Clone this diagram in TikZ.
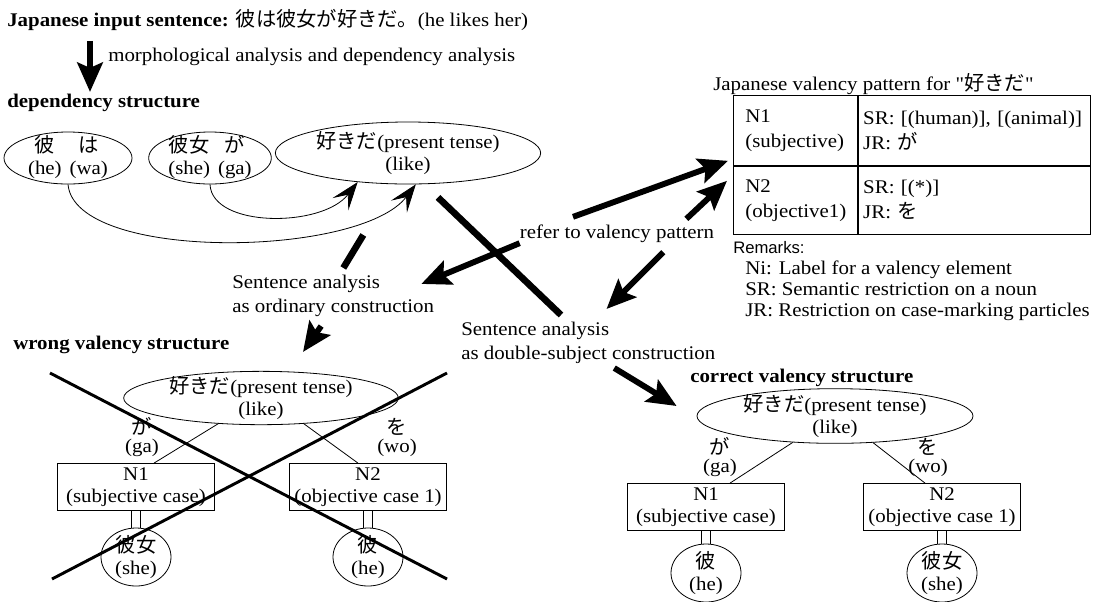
\documentclass[tikz,border=0pt]{standalone}
\usepackage{fontspec}
\setmainfont{Liberation Serif}[FakeStretch=1.08]
\newfontfamily\qfont{Liberation Serif}[FakeStretch=1.08]
\newfontfamily\jpfont{Noto Sans CJK JP}[Scale=1.05]
\newfontfamily\remfont{Liberation Sans}
\usetikzlibrary{shapes.geometric,arrows.meta}

\newcommand{\ja}[1]{{\jpfont #1}}
\newcommand{\dq}{{\qfont"}}

\tikzset{
  every node/.style={font=\fontsize{14.5}{18}\selectfont, inner sep=0pt},
  heading/.style={font=\fontsize{14.5}{18}\selectfont\bfseries, anchor=west},
  plain/.style={anchor=west, align=left},
  word/.style={ellipse, draw, line width=0.6pt, inner xsep=0pt, inner ysep=-4pt,
    align=center, font=\fontsize{14.5}{16.5}\selectfont},
  particle/.style={align=center, font=\fontsize{14.5}{13.5}\selectfont},
  casebox/.style={draw, line width=0.6pt, minimum width=117.75pt,
    minimum height=35.25pt, align=center, font=\fontsize{14.5}{16.5}\selectfont},
  cell/.style={draw, line width=0.6pt, anchor=north west, align=left,
    font=\fontsize{14.5}{18.75}\selectfont},
  fatarrow/.style={line width=4.4pt, -{Stealth[length=22pt,width=19pt,inset=4pt]}},
  fatline/.style={line width=5pt},
  deparrow/.style={line width=0.6pt, -{Stealth[length=21pt,width=15pt,inset=9pt]}},
  crossout/.style={line width=2.2pt},
}

\begin{document}
\begin{tikzpicture}[x=0.75pt, y=-0.75pt]
\fill[white] (0,0) rectangle (1098,601);
\useasboundingbox (0,0) rectangle (1098,601);

% input and dependency structure
\node[plain] (title) at (7,20) {\textbf{Japanese input sentence:} \ja{彼は彼女が好きだ。}(he likes her)};
\node[plain] (morph) at (108,57) {morphological analysis and dependency analysis};
\node[heading] (depst) at (7,103) {dependency structure};
\draw[fatarrow] ([shift={(83,10)}]title.south west) -- ([shift={(83,-2)}]depst.north west);

\node[word, minimum width=96pt, minimum height=39pt] (heWa) at (68,158)
  {\begin{tabular}{@{}c@{\hspace{6pt}}c@{}}\ja{彼}&\ja{は}\\(he)&(wa)\end{tabular}};
\node[word, minimum width=92pt, minimum height=39pt] (sheGa) at (210,158)
  {\begin{tabular}{@{}c@{\hspace{6pt}}c@{}}\ja{彼女}&\ja{が}\\(she)&(ga)\end{tabular}};
\node[word, minimum width=199pt, minimum height=46.5pt] (like) at (408,153)
  {\ja{好きだ}(present tense)\\(like)};

\draw[deparrow] (heWa.south) .. controls (75,262) and (360,258) .. (like.-76);
\draw[deparrow] (sheGa.south) .. controls (212,228) and (322,228) .. (like.-150);

% the two analyses
\node[plain] (ord) at (232,296) {Sentence analysis\\as ordinary construction};
\node (refer) at (617,234) {refer to valency pattern};
\node[plain] (dbl) at (461,343) {Sentence analysis\\as double-subject construction};

% valency pattern table
\node[plain] (pattitle) at (713,84) {Japanese valency pattern for \dq\ja{好きだ}\dq};
\node[cell, inner xsep=9pt, text width=75pt, minimum height=52.5pt] (n1cell) at (733,95) {N1\\(subjective)};
\node[cell, inner xsep=3.75pt, text width=166.5pt, minimum height=52.5pt] (n1res) at (n1cell.north east) {SR: [(human)], [(animal)]\\JR: \ja{が}};
\node[cell, inner xsep=9pt, text width=75pt, minimum height=51pt] (n2cell) at (n1cell.south west) {N2\\(objective1)};
\node[cell, inner xsep=3.75pt, text width=166.5pt, minimum height=51pt] (n2res) at (n2cell.north east) {SR: [(*)]\\JR: \ja{を}};

\node[anchor=west, font=\remfont\fontsize{12.5}{15}\selectfont] (remarks) at (733,248) {Remarks:};
\node[plain, font=\fontsize{14.5}{15.75}\selectfont] (remlist) at (745,291)
  {Ni: Label for a valency element\\SR: Semantic restriction on a noun\\JR: Restriction on case-marking particles};

% wrong valency structure
\node[heading] (wrongst) at (13,345) {wrong valency structure};
\node[word, minimum width=206pt, minimum height=40pt] (wlike) at (261,398) {\ja{好きだ}(present tense)\\(like)};
\node[particle] (wga) at (142,437) {\ja{が}\\(ga)};
\node[particle] (wwo) at (397,437) {\ja{を}\\(wo)};
\node[casebox] (wn1) at (136,487) {N1\\(subjective case)};
\node[casebox] (wn2) at (368,487) {N2\\(objective case 1)};
\node[word, minimum width=52.5pt, minimum height=43.5pt] (wshe) at (136,557) {\ja{彼女}\\(she)};
\node[word, minimum width=52.5pt, minimum height=43.5pt] (whe) at (368,557) {\ja{彼}\\(he)};
\draw[line width=0.6pt] (wlike.-149) -- ([xshift=13.5pt]wn1.north);
\draw[line width=0.6pt] (wlike.-31) -- ([xshift=-7.5pt]wn2.north);

% correct valency structure
\node[heading] (rightst) at (690,378) {correct valency structure};
\node[word, minimum width=207pt, minimum height=41pt] (clike) at (835,416) {\ja{好きだ}(present tense)\\(like)};
\node[particle] (cga) at (720,457) {\ja{が}\\(ga)};
\node[particle] (cwo) at (928,457) {\ja{を}\\(wo)};
\node[casebox] (cn1) at (706,507) {N1\\(subjective case)};
\node[casebox] (cn2) at (942,507) {N2\\(objective case 1)};
\node[word, minimum width=52.5pt, minimum height=43.5pt] (che) at (706,573) {\ja{彼}\\(he)};
\node[word, minimum width=52.5pt, minimum height=43.5pt] (cshe) at (942,573) {\ja{彼女}\\(she)};
\draw[line width=0.6pt] (clike.-148) -- ([xshift=18pt]cn1.north);
\draw[line width=0.6pt] (clike.-35) -- ([xshift=-12.75pt]cn2.north);

% double bars from case boxes to nouns
\foreach \b/\n in {wn1/wshe, wn2/whe, cn1/che, cn2/cshe}
{
    \draw[line width=0.6pt] ([xshift=-3.5pt]\b.south) -- ([xshift=-3.5pt]\n.north);
    \draw[line width=0.6pt] ([xshift=3.5pt]\b.south) -- ([xshift=3.5pt]\n.north);
}

% fat arrows between the stages
\draw[fatline] ([shift={(-71,-40)}]ord.north east) -- ([shift={(-91,-7)}]ord.north east);
\draw[fatarrow] ([shift={(-12,9)}]ord.south) -- ([shift={(42,-19)}]wlike.north);
\draw[fatarrow] (refer.south west) -- ([shift={(-13,9)}]ord.north east);
\draw[fatarrow] ([shift={(-44,-8)}]refer.north) -- ([shift={(-5,-5)}]n1cell.south west);
\draw[fatarrow] ([shift={(-28,-6)}]refer.north east) -- ([shift={(-6,15)}]n2cell.north west);
\draw[fatarrow] ([shift={(-51,9)}]refer.south east) -- ([shift={(-109,-13)}]dbl.north east);
\draw[fatline] ([shift={(30,13)}]like.south) -- ([shift={(100,-7)}]dbl.north west);
\draw[fatarrow] ([shift={(26,4)}]dbl.south) -- ([shift={(-20,-10)}]clike.west);

% cross out the wrong one
\draw[crossout] (50,373) -- (447,579);
\draw[crossout] (52,579) -- (447,373);

\end{tikzpicture}
\end{document}
